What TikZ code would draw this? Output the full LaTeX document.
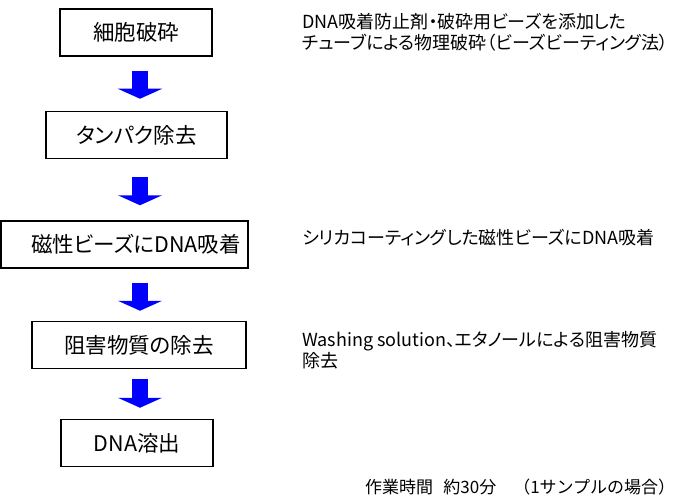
\documentclass[tikz,border=0pt]{standalone}
\usepackage{fontspec}
\setmainfont{Noto Sans CJK JP}
\newfontfamily\propjp[RawFeature=+palt]{Noto Sans CJK JP}
\usetikzlibrary{arrows.meta}

\tikzset{
  stepbox/.style={draw,line width=1.5pt,minimum height=47pt,inner sep=0pt,
    font=\propjp\fontsize{21.5}{24}\selectfont},
  flowarrow/.style={draw=blue,line width=16pt,-{Triangle[width=44pt,length=10pt]}},
  note/.style={anchor=west,align=left,inner sep=0pt,
    font=\propjp\fontsize{18}{21}\selectfont}
}

\begin{document}
\begin{tikzpicture}[x=1pt,y=-1pt]
\useasboundingbox (0,0) rectangle (677,500);
\coordinate (ax) at (140,0);

% steps
\node[stepbox,minimum width=152pt] (b1) at (136,32.5) {細胞破砕};
\node[stepbox,minimum width=181pt] (b2) at (136.5,135) {タンパク除去};
\node[stepbox,minimum width=247pt] (b3) at (124.5,244.5) {\hspace*{23pt}磁性ビーズにDNA吸着};
\node[stepbox,minimum width=214pt] (b4) at (139,345) {阻害物質の除去};
\node[stepbox,minimum width=152pt] (b5) at (137,443) {DNA溶出};

% arrows
\draw[flowarrow,shorten <=14pt,shorten >=12pt] (b1.south -| ax) -- (b2.north -| ax);
\draw[flowarrow,shorten <=18pt,shorten >=15pt] (b2.south -| ax) -- (b3.north -| ax);
\draw[flowarrow,shorten <=14pt,shorten >=10pt] (b3.south -| ax) -- (b4.north -| ax);
\draw[flowarrow,shorten <=10pt,shorten >=11pt] (b4.south -| ax) -- (b5.north -| ax);

% notes
\node[note] (n1) at (302,32.5) {DNA吸着防止剤・破砕用ビーズを添加した\\チューブによる物理破砕（ビーズビーティング法）};
\node[note] (n3) at (302,238) {シリカコーティングした磁性ビーズにDNA吸着};
\node[note] (n4) at (302,350) {Washing solution、エタノールによる阻害物質\\除去};
\node[note,font=\fontsize{17}{20}\selectfont] (tm) at (365,487)
  {作業時間\hspace{0.6em}約30分\hspace{1em}（1サンプルの場合）};
\end{tikzpicture}
\end{document}
